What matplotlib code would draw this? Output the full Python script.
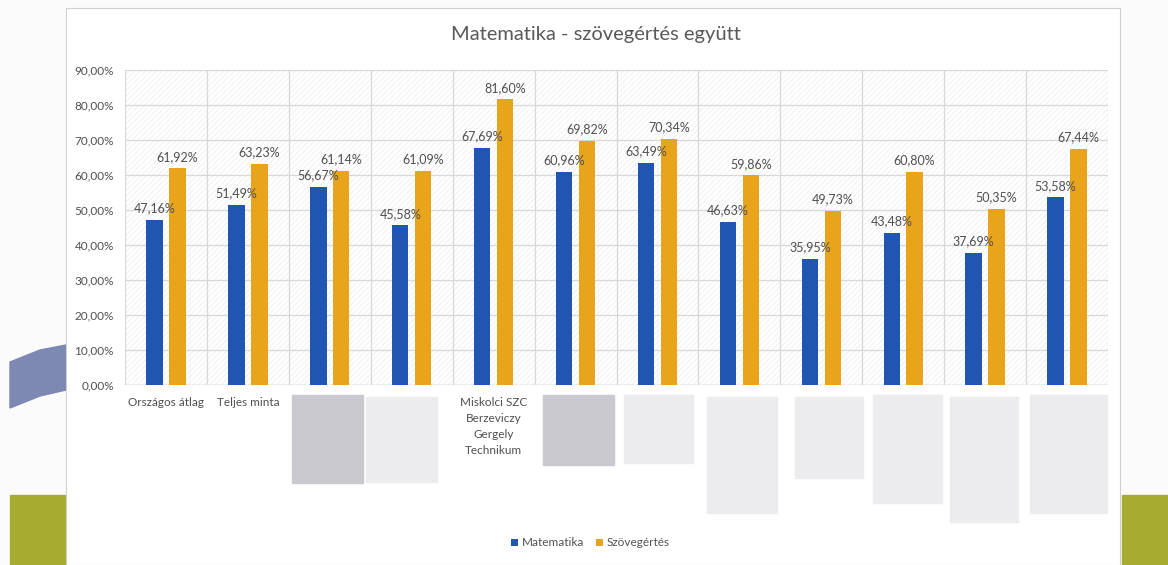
import matplotlib.pyplot as plt
import matplotlib.patches as mpatches
from matplotlib.ticker import FuncFormatter
import numpy as np

plt.rcParams['font.family'] = ['Lato', 'DejaVu Sans']
plt.rcParams['hatch.color'] = '#ebebeb'
plt.rcParams['hatch.linewidth'] = 0.5

categories = ['Országos átlag', 'Teljes minta', '', '',
              'Miskolci SZC\nBerzeviczy\nGergely\nTechnikum',
              '', '', '', '', '', '', '']
matek = [47.16, 51.49, 56.67, 45.58, 67.69, 60.96, 63.49, 46.63, 35.95, 43.48, 37.69, 53.58]
szoveg = [61.92, 63.23, 61.14, 61.09, 81.60, 69.82, 70.34, 59.86, 49.73, 60.80, 50.35, 67.44]

W, H = 1168, 565
fig = plt.figure(figsize=(W / 100, H / 100), dpi=100)
fig.patch.set_facecolor('#fbfbfb')


def frect(x0, y0, x1, y1, **kw):
    # rectangle in pixel coords of the picture (y from top)
    return mpatches.Rectangle((x0 / W, 1 - y1 / H), (x1 - x0) / W, (y1 - y0) / H,
                              transform=fig.transFigure, **kw)


# slide decoration behind the chart
arc = mpatches.Polygon([(10 / W, 1 - 362 / H), (40 / W, 1 - 350 / H), (66 / W, 1 - 345 / H),
                        (66 / W, 1 - 390 / H), (40 / W, 1 - 396 / H), (10 / W, 1 - 408 / H)],
                       closed=True, transform=fig.transFigure, color='#7d88b3', zorder=-2)
fig.patches.append(arc)
fig.patches.append(frect(10, 495, 66, 565, color='#a6ac2f', zorder=-2))
fig.patches.append(frect(1122, 495, 1168, 565, color='#a6ac2f', zorder=-2))
# chart area
fig.patches.append(frect(66, 8, 1120, 565, facecolor='white', edgecolor='#d0d0d0', lw=0.8, zorder=-1))

ax = fig.add_axes([125 / W, 1 - 385 / H, 983 / W, 315 / H])
ax.set_zorder(1)
ax.set_facecolor('white')
ax.patch.set_hatch('//////')
ax.patch.set_edgecolor('#ebebeb')

x = np.arange(len(categories))
w = 0.2
b1 = ax.bar(x - 0.14, matek, w, color='#2155b2', label='Matematika', zorder=3)
b2 = ax.bar(x + 0.14, szoveg, w, color='#e8a41b', label='Szövegértés', zorder=3)

fmt = lambda v: f'{v:.2f}%'.replace('.', ',')
ax.bar_label(b1, labels=[fmt(v) for v in matek], padding=4, fontsize=9, color='#505050', zorder=4)
ax.bar_label(b2, labels=[fmt(v) for v in szoveg], padding=4, fontsize=9, color='#505050', zorder=4)

ax.set_xlim(-0.5, len(categories) - 0.5)
ax.set_ylim(0, 90)
ax.set_yticks(np.arange(0, 91, 10))
ax.yaxis.set_major_formatter(FuncFormatter(lambda v, p: f'{v:.2f}%'.replace('.', ',')))
ax.set_xticks(x)
ax.set_xticklabels(categories, fontsize=8.5, color='#505050', va='top', linespacing=1.55)
ax.set_xticks(np.arange(-0.5, len(categories), 1), minor=True)
ax.tick_params(axis='y', labelsize=8.5, labelcolor='#505050', length=0, pad=8)
ax.tick_params(axis='x', which='both', length=0, pad=9)
ax.grid(axis='y', color='#d8d8d8', lw=0.9, zorder=1)
ax.grid(axis='x', which='minor', color='#d8d8d8', lw=0.9, zorder=1)
ax.set_axisbelow(True)
for s in ax.spines.values():
    s.set_visible(False)
ax.axhline(0, color='#c8c8c8', lw=1, zorder=2)

# redacted category labels
boxes = [(292, 395, 363, 483, '#c9c9cf'), (366, 397, 437, 482, '#ececef'),
         (543, 395, 614, 465, '#c9c9cf'), (624, 395, 693, 463, '#ececef'),
         (707, 397, 777, 513, '#ececef'), (795, 397, 863, 478, '#ececef'),
         (873, 395, 942, 503, '#ececef'), (950, 397, 1018, 522, '#ececef'),
         (1030, 395, 1107, 513, '#ececef')]
for x0, y0, x1, y1, c in boxes:
    fig.patches.append(frect(x0, y0, x1, y1, color=c, zorder=5))

fig.suptitle('Matematika - szövegértés együtt', x=596 / W, y=1 - 26 / H, fontsize=14.5, color='#595959')
fig.legend(handles=[b1, b2], loc='center', bbox_to_anchor=(590 / W, 1 - 543 / H), ncol=2,
           frameon=False, fontsize=8.5, labelcolor='#505050', handlelength=0.6, handleheight=0.6,
           handletextpad=0.3, columnspacing=1.0)

fig.savefig('out.png', dpi=100, facecolor=fig.get_facecolor())
